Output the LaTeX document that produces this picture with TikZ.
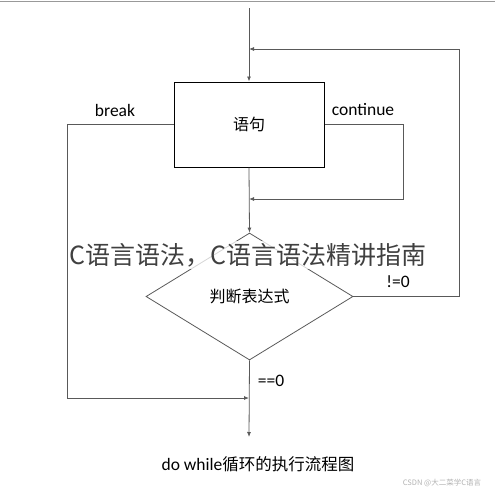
\documentclass[tikz,border=0pt]{standalone}
\usepackage{fontspec}
\setmainfont{Carlito}
\newfontfamily\cjk{Noto Sans CJK SC}
\usetikzlibrary{positioning,shapes,arrows.meta}

\begin{document}
\begin{tikzpicture}[x=1pt,y=-1pt,
    line/.style={draw=black!65,line width=0.8pt},
    arr/.style={line,-{Latex[length=5pt,width=4pt]}},
    lbl/.style={font=\fontsize{17.5}{17.5}\selectfont,inner sep=0pt}]
  \useasboundingbox (0,0) rectangle (495,490);
  \draw[black!40] (0,0.8) -- (495,0.8);
  % blocks
  \node[draw,line width=1pt,minimum width=150pt,minimum height=85pt,
        font=\cjk\fontsize{16}{16}\selectfont] (stmt) at (249,124.5) {语句};
  \node[draw=black!65,line width=0.8pt,diamond,inner sep=0pt,shape aspect=1.63,
        minimum width=207pt,minimum height=127pt,
        font=\cjk\fontsize{16}{16}\selectfont] (cond) at (249.5,296.5) {判断表达式};
  % joints
  \coordinate (top) at (249,8);
  \coordinate (jr) at (249,49);
  \coordinate (rr) at (459,49);
  \coordinate (cr) at (249,199);
  \coordinate (cc) at (403,199);
  \coordinate (br) at (249,398);
  \coordinate (bb) at (67,398);
  \coordinate (end) at (249,437);
  % flow
  \draw[arr] (top) -- (stmt.north);
  \draw[arr] (stmt.south) -- (cond.north);
  \draw[arr] (cond.south) -- (end);
  \draw[arr] (stmt.east) -| (cc) -- (cr);
  \draw[arr] (stmt.west) -| (bb) -- (br);
  \draw[arr] (cond.east) -| (rr) -- (jr);
  % labels
  \node[lbl] (brk) at (115,110) {break};
  \node[lbl] (cnt) at (363,110) {continue};
  \node[lbl] (ne) at (398,282) {!=0};
  \node[lbl] (eq) at (271,381) {==0};
  \node[lbl] (cap) at (258,464) {do while{\cjk\fontsize{16.5}{17}\selectfont 循环的执行流程图}};
  % overlay
  \node[fill=white,fill opacity=0.75,text opacity=1,text=black!75,inner sep=2pt,
        font=\cjk\fontsize{25}{25}\selectfont] (wm) at (248,255) {C语言语法，C语言语法精讲指南};
  \node[text=black!30,inner sep=0pt,font=\cjk\fontsize{7.5}{8}\selectfont] (src) at (442,483) {CSDN @大二菜学C语言};
\end{tikzpicture}
\end{document}
